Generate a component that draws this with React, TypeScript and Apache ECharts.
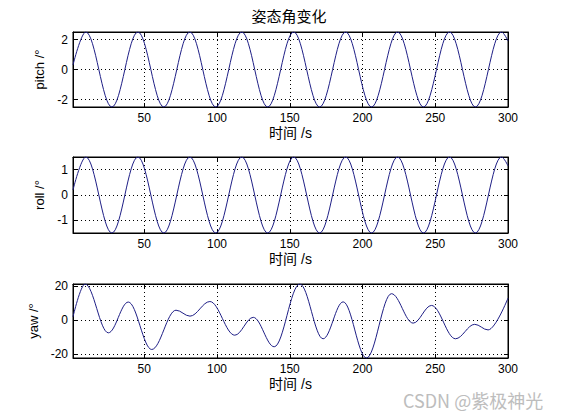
import React, { useEffect, useRef } from 'react';
import * as echarts from 'echarts';

const chartTitle = '姿态角变化';
const timeLabel = '时间 /s';
const angleLabels = ['pitch /°', 'roll /°', 'yaw /°'];
const watermark = 'CSDN @紫极神光';

const timeTicks = [50, 100, 150, 200, 250, 300];
const pitchTicks = [-2, 0, 2];
const rollTicks = [-1, 0, 1];
const yawTicks = [-20, 0, 20];

const timeRange = [1, 300];
const pitchRange = [-2.5, 2.5];
const rollRange = [-1.5, 1.5];
const yawRange = [-22.2, 21.3];

// turning points: [time s, angle deg]
const pitchPoints = [
    [1, 0.3], [9.8, 2.5], [27.7, -2.5], [45.6, 2.5], [63.4, -2.5], [81.3, 2.5],
    [99.1, -2.5], [117.0, 2.5], [134.8, -2.5], [152.7, 2.5], [170.5, -2.5],
    [188.4, 2.5], [206.2, -2.5], [224.1, 2.5], [241.9, -2.5], [259.8, 2.5],
    [277.6, -2.5], [295.5, 2.5], [300, 1.9],
];
const rollPoints = [
    [1, 0.2], [9.8, 1.5], [27.7, -1.5], [45.6, 1.5], [63.4, -1.5], [81.3, 1.5],
    [99.1, -1.5], [117.0, 1.5], [134.8, -1.5], [152.7, 1.5], [170.5, -1.5],
    [188.4, 1.5], [206.2, -1.5], [224.1, 1.5], [241.9, -1.5], [259.8, 1.5],
    [277.6, -1.5], [295.5, 1.5], [300, 1.15],
];
const yawPoints = [
    [1, 2], [9.3, 21.3], [25.3, -7.4], [39, 10.7], [55.1, -17.2], [71.8, 5.9],
    [81.4, 2.4], [95.1, 11.0], [112.2, -8.8], [124.9, 1.7], [139.3, -15.6],
    [156.9, 21.3], [172.9, -10.9], [186.7, 10.8], [202.7, -22.2], [219.9, 15.6],
    [234.8, -1.7], [247.4, 8.7], [263.9, -10.9], [277.1, -2.4], [286.3, -5.7],
    [300, 13],
];

const LINE_COLOR = '#1f1f86';
const FONT = "'Liberation Sans', Arial, 'Noto Sans CJK SC', sans-serif";
const CJK_FONT = "'Noto Sans CJK SC', 'Liberation Sans', sans-serif";

const panelTops = [32, 157, 284];
const panelHeights = [75, 76, 74];
const nameGaps = [18, 18, 24];

const seriesPoints = [pitchPoints, rollPoints, yawPoints];
const yTickValues = [pitchTicks, rollTicks, yawTicks];
const yRanges = [pitchRange, rollRange, yawRange];

const dotted = { color: '#000', width: 1, type: [1, 3] as number[] };
const tick = (values: number[]) => ({
    show: true,
    inside: true,
    length: 4,
    customValues: values,
    lineStyle: { color: '#000', width: 1 },
});
const line = { show: true, onZero: false, lineStyle: { color: '#000', width: 1 } };
const label = (values: number[], margin: number) => ({
    customValues: values,
    margin,
    color: '#000',
    fontSize: 12,
    fontFamily: FONT,
});

const App: React.FC = () => {
    const chartRef = useRef<HTMLDivElement>(null);

    useEffect(() => {
        if (!chartRef.current) return;
        const chart = echarts.init(chartRef.current, undefined, { renderer: 'svg' });

        const grid: any[] = [];
        const xAxis: any[] = [];
        const yAxis: any[] = [];
        const series: any[] = [];

        panelTops.forEach((top, i) => {
            grid.push({
                left: 73,
                top,
                width: 435,
                height: panelHeights[i],
                show: true,
                borderColor: '#000',
                borderWidth: 1,
                backgroundColor: '#fff',
            });
            xAxis.push({
                type: 'value',
                gridIndex: i,
                position: 'bottom',
                min: timeRange[0],
                max: timeRange[1],
                name: timeLabel,
                nameLocation: 'middle',
                nameGap: 19,
                nameTextStyle: { color: '#000', fontSize: 14, fontFamily: FONT },
                axisLine: line,
                axisTick: tick(timeTicks),
                axisLabel: label(timeTicks, 5),
                splitLine: { show: true, lineStyle: dotted },
            });
            xAxis.push({
                type: 'value',
                gridIndex: i,
                position: 'top',
                min: timeRange[0],
                max: timeRange[1],
                axisLine: line,
                axisTick: tick(timeTicks),
                axisLabel: { show: false },
                splitLine: { show: false },
            });
            yAxis.push({
                type: 'value',
                gridIndex: i,
                position: 'left',
                min: yRanges[i][0],
                max: yRanges[i][1],
                name: angleLabels[i],
                nameLocation: 'middle',
                nameGap: nameGaps[i],
                nameTextStyle: { color: '#000', fontSize: 13, fontFamily: FONT },
                axisLine: line,
                axisTick: tick(yTickValues[i]),
                axisLabel: label(yTickValues[i], 5),
                splitLine: { show: true, lineStyle: dotted },
            });
            yAxis.push({
                type: 'value',
                gridIndex: i,
                position: 'right',
                min: yRanges[i][0],
                max: yRanges[i][1],
                axisLine: line,
                axisTick: tick(yTickValues[i]),
                axisLabel: { show: false },
                splitLine: { show: false },
            });
            series.push({
                type: 'line',
                xAxisIndex: 2 * i,
                yAxisIndex: 2 * i,
                data: seriesPoints[i],
                smooth: 0.36,
                smoothMonotone: 'x',
                showSymbol: false,
                symbol: 'none',
                silent: true,
                lineStyle: { color: LINE_COLOR, width: 1 },
            });
        });

        chart.setOption({
            animation: false,
            backgroundColor: '#fff',
            title: {
                text: chartTitle,
                left: 289,
                top: 8,
                padding: 0,
                textAlign: 'center',
                textStyle: { color: '#000', fontSize: 15, fontWeight: 'normal', fontFamily: CJK_FONT },
            },
            grid,
            xAxis,
            yAxis,
            series,
            graphic: [
                {
                    type: 'text',
                    left: 403,
                    top: 391,
                    style: { text: watermark, fill: '#bdbdbd', font: `18px ${CJK_FONT}` },
                },
            ],
        });

        return () => chart.dispose();
    }, []);

    return (
        <div
            ref={chartRef}
            style={{ position: 'absolute', left: 0, top: 0, width: 561, height: 420 }}
        />
    );
};

export default App;
